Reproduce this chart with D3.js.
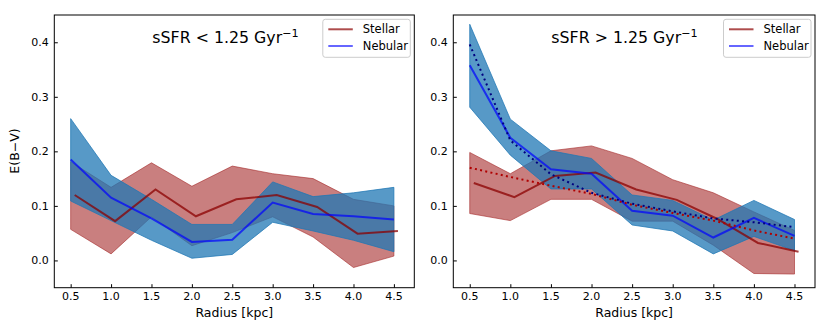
<!DOCTYPE html>
<html>
<head>
<meta charset="utf-8">
<script src="https://cdn.jsdelivr.net/npm/d3@7"></script>
<style>
  html, body { margin: 0; padding: 0; background: #fff; }
  svg { display: block; }
</style>
</head>
<body>
<div id="chart"></div>
<script>
// Radial bins (kpc); stellar profile is plotted slightly offset
const radius = [0.5, 1.0, 1.5, 2.0, 2.5, 3.0, 3.5, 4.0, 4.5];
const radiusStellar = [0.55, 1.05, 1.55, 2.05, 2.55, 3.05, 3.55, 4.05, 4.55];
const xTicks = [0.5, 1.0, 1.5, 2.0, 2.5, 3.0, 3.5, 4.0, 4.5];
const yTicks = [0.0, 0.1, 0.2, 0.3, 0.4];

// sSFR < 1.25 Gyr^-1
const lowNebular   = [0.185, 0.115, 0.077, 0.034, 0.038, 0.106, 0.085, 0.081, 0.075];
const lowNebularHi = [0.260, 0.156, 0.112, 0.066, 0.066, 0.144, 0.117, 0.124, 0.134];
const lowNebularLo = [0.109, 0.073, 0.037, 0.004, 0.011, 0.070, 0.054, 0.037, 0.016];
const lowStellar   = [0.120, 0.072, 0.130, 0.081, 0.112, 0.120, 0.098, 0.049, 0.054];
const lowStellarHi = [0.181, 0.134, 0.179, 0.136, 0.173, 0.159, 0.150, 0.112, 0.100];
const lowStellarLo = [0.057, 0.012, 0.080, 0.027, 0.051, 0.080, 0.043, -0.013, 0.008];

// sSFR > 1.25 Gyr^-1
const highNebular   = [0.358, 0.225, 0.167, 0.159, 0.091, 0.082, 0.042, 0.078, 0.045];
const highNebularHi = [0.433, 0.259, 0.201, 0.187, 0.120, 0.110, 0.074, 0.110, 0.075];
const highNebularLo = [0.281, 0.193, 0.131, 0.131, 0.065, 0.054, 0.012, 0.044, 0.018];
const highStellar   = [0.142, 0.116, 0.155, 0.161, 0.130, 0.111, 0.076, 0.032, 0.016];
const highStellarHi = [0.198, 0.159, 0.201, 0.210, 0.187, 0.148, 0.124, 0.089, 0.055];
const highStellarLo = [0.086, 0.073, 0.112, 0.112, 0.072, 0.072, 0.028, -0.024, -0.025];
const highNebularFit = [0.396, 0.220, 0.158, 0.124, 0.104, 0.090, 0.077, 0.070, 0.061];
const highStellarFit = [0.170, 0.153, 0.137, 0.122, 0.102, 0.087, 0.073, 0.055, 0.040];

const FONT = '"DejaVu Sans", sans-serif';
const RED = '#8b0000', BAND_RED = '#a52a2a', BAND_BLUE = '#1f77b4', BLUE = '#0000ff';

const svg = d3.select('#chart').append('svg')
    .attr('width', 830).attr('height', 332)
    .attr('viewBox', '0 0 830 332');

function drawPanel(p) {
    const top = 15, bottom = 287.7;
    const x = d3.scaleLinear().domain([0.2975, 4.7525]).range([p.left, p.right]);
    const y = d3.scaleLinear().domain([-0.05, 0.45]).range([bottom, top]);
    const g = svg.append('g');

    const band = (hi, lo) => d3.area()
        .x((_, i) => x(radius[i])).y0((_, i) => y(lo[i])).y1(d => y(d))(hi);

    // Stellar band under nebular band
    g.append('path').attr('d', band(p.stelHi, p.stelLo))
        .attr('fill', BAND_RED).attr('fill-opacity', 0.6)
        .attr('stroke', BAND_RED).attr('stroke-opacity', 0.6).attr('stroke-width', 1);
    g.append('path').attr('d', band(p.nebHi, p.nebLo))
        .attr('fill', BAND_BLUE).attr('fill-opacity', 0.75)
        .attr('stroke', BAND_BLUE).attr('stroke-opacity', 0.75).attr('stroke-width', 1);

    const line = xs => d3.line().x((_, i) => x(xs[i])).y(d => y(d));

    g.append('path').attr('d', line(radiusStellar)(p.stel))
        .attr('fill', 'none').attr('stroke', RED).attr('stroke-opacity', 0.75)
        .attr('stroke-width', 2);
    g.append('path').attr('d', line(radius)(p.neb))
        .attr('fill', 'none').attr('stroke', BLUE).attr('stroke-opacity', 0.7)
        .attr('stroke-width', 2);

    if (p.stelFit) {
        g.append('path').attr('d', line(radius)(p.stelFit))
            .attr('fill', 'none').attr('stroke', '#b00000')
            .attr('stroke-width', 2).attr('stroke-dasharray', '2,3.3');
        g.append('path').attr('d', line(radius)(p.nebFit))
            .attr('fill', 'none').attr('stroke', '#000080')
            .attr('stroke-width', 2).attr('stroke-dasharray', '2,3.3');
    }

    // Frame
    g.append('rect').attr('x', p.left).attr('y', top)
        .attr('width', p.right - p.left).attr('height', bottom - top)
        .attr('fill', 'none').attr('stroke', '#000').attr('stroke-width', 1);

    // X axis (ticks point inward)
    g.append('g').attr('transform', `translate(0,${bottom})`)
        .call(d3.axisTop(x).tickValues(xTicks).tickSize(3.5).tickFormat(''))
        .call(ax => ax.select('.domain').remove())
        .call(ax => ax.selectAll('line').attr('stroke', '#000'));
    g.selectAll(null).data(xTicks).join('text')
        .attr('x', d => x(d)).attr('y', 300)
        .attr('text-anchor', 'middle').attr('font-size', 11).attr('font-family', FONT)
        .text(d => d.toFixed(1));

    // Y axis
    g.append('g').attr('transform', `translate(${p.left},0)`)
        .call(d3.axisRight(y).tickValues(yTicks).tickSize(3.5).tickFormat(''))
        .call(ax => ax.select('.domain').remove())
        .call(ax => ax.selectAll('line').attr('stroke', '#000'));
    g.selectAll(null).data(yTicks).join('text')
        .attr('x', p.left - 5.5).attr('y', d => y(d)).attr('dy', '0.36em')
        .attr('text-anchor', 'end').attr('font-size', 11).attr('font-family', FONT)
        .text(d => d.toFixed(1));

    g.append('text').attr('x', (p.left + p.right) / 2).attr('y', 317)
        .attr('text-anchor', 'middle').attr('font-size', 12.5).attr('font-family', FONT)
        .text('Radius [kpc]');

    // Panel title
    const t = g.append('text').attr('x', p.left + 98).attr('y', 42.5)
        .attr('font-size', 15.8).attr('font-family', FONT);
    t.append('tspan').text(p.title);
    t.append('tspan').attr('dy', -6).attr('font-size', 11.2).text('\u22121');

    // Legend
    const lg = g.append('g').attr('transform', `translate(${p.right - 91.5},19.3)`);
    lg.append('rect').attr('width', 87.5).attr('height', 38).attr('rx', 2.5)
        .attr('fill', '#fff').attr('fill-opacity', 0.8)
        .attr('stroke', '#cccccc').attr('stroke-width', 1);
    [['Stellar', RED, 0.7, 10], ['Nebular', BLUE, 0.6, 26.7]].forEach(([lab, col, op, ly]) => {
        lg.append('line').attr('x1', 5.5).attr('x2', 30).attr('y1', ly).attr('y2', ly)
            .attr('stroke', col).attr('stroke-opacity', op).attr('stroke-width', 2);
        lg.append('text').attr('x', 40).attr('y', ly + 4)
            .attr('font-size', 11.5).attr('font-family', FONT).text(lab);
    });
}

drawPanel({
    left: 54.3, right: 414.3, title: 'sSFR < 1.25 Gyr',
    neb: lowNebular, nebHi: lowNebularHi, nebLo: lowNebularLo,
    stel: lowStellar, stelHi: lowStellarHi, stelLo: lowStellarLo
});
drawPanel({
    left: 453.3, right: 815, title: 'sSFR > 1.25 Gyr',
    neb: highNebular, nebHi: highNebularHi, nebLo: highNebularLo,
    stel: highStellar, stelHi: highStellarHi, stelLo: highStellarLo,
    nebFit: highNebularFit, stelFit: highStellarFit
});

// Shared y label
svg.append('text').attr('transform', 'translate(18.5,151) rotate(-90)')
    .attr('text-anchor', 'middle').attr('font-size', 12.5).attr('font-family', FONT)
    .text('E(B\u2212V)');
</script>
</body>
</html>
